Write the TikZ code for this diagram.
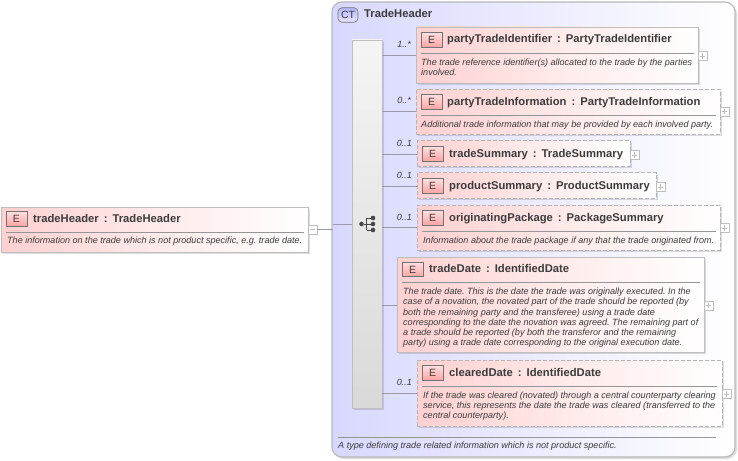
\documentclass[tikz,border=0pt]{standalone}
\usepackage{fontspec}
\setmainfont{Liberation Sans}
\definecolor{txt}{HTML}{3C3C3C}
\definecolor{bord}{HTML}{BEBEBE}
\definecolor{dashb}{HTML}{B4B4B4}
\definecolor{pinkl}{HTML}{FFD0D0}
\definecolor{lav}{HTML}{D8D8FF}
\definecolor{rulec}{HTML}{969696}
\definecolor{wirec}{HTML}{9A9AA8}
\tikzset{
  elemshape/.style={rectangle,inner sep=0pt,outer sep=0pt,left color=pinkl,right color=white,middle color=pinkl!45!white},
  solidb/.style={draw=bord,line width=.9pt},
  dashedb/.style={draw=dashb,line width=.9pt,dash pattern=on 4pt off 2pt},
  title/.style={anchor=base west,inner sep=0pt,text=txt,font=\fontsize{11.25}{13}\selectfont\bfseries},
  desc/.style={anchor=north west,inner sep=0pt,yshift=-1pt,align=left,text=txt,font=\fontsize{9.06}{10.2}\selectfont\itshape\frenchspacing},
  card/.style={anchor=east,inner sep=0pt,text=txt,font=\fontsize{9}{10}\selectfont\itshape},
  eicon/.style={rectangle,inner sep=0pt,outer sep=0pt,minimum width=21pt,minimum height=14.5pt,draw=black!55,line width=.6pt,top color=pinkl!70!white,bottom color=red!36!white,text=txt,font=\fontsize{10.5}{10}\selectfont},
  exp/.style={rectangle,inner sep=0pt,outer sep=0pt,minimum size=9pt,draw=bord,fill=white,line width=.7pt},
  wire/.style={draw=wirec,line width=.7pt},
  rulel/.style={draw=rulec,line width=.7pt},
  sdw/.style={fill=black,opacity=.13},
}
\newcommand{\elembox}[6]{%
  \fill[sdw] (#2+2,#3+2) rectangle (#4+2,#5+2);
  \node[elemshape,#6,minimum width={(#4-#2)*1pt},minimum height={(#5-#3)*1pt}] (#1) at ({(#2+#4)/2},{(#3+#5)/2}) {};
}
\newcommand{\plusbox}[3]{%
  \node[exp] (#1) at (#2,#3) {};
  \draw[draw=bord,line width=.7pt] (#2-2.7,#3) -- (#2+2.7,#3) (#2,#3-2.7) -- (#2,#3+2.7);
}
\begin{document}
\begin{tikzpicture}[x=1pt,y=-1pt]
\useasboundingbox (0,0) rectangle (738,460);
\fill[white] (0,0) rectangle (738,460);

% container
\fill[sdw,rounded corners=10pt] (334,4) rectangle (737,459);
\node[rectangle,rounded corners=10pt,inner sep=0pt,outer sep=0pt,draw=black!28,line width=1.1pt,left color=lav,right color=white,minimum width=403pt,minimum height=455pt] (ct) at (533.5,229.5) {};
\node[rectangle,rounded corners=4pt,inner sep=0pt,outer sep=0pt,minimum width=20pt,minimum height=14.5pt,draw=black!55,line width=.6pt,top color=lav!85!blue,bottom color=lav!70!white,text=txt,font=\fontsize{10.5}{10}\selectfont] (cticon) at (348,15) {CT};
\node[title] (cttitle) at (364,17.5) {TradeHeader};
\draw[rulel] (338,437) -- (716,437);
\node[desc] (ctdesc) at (338,441) {A type defining trade related information which is not product specific.};

% top-level element
\elembox{root}{1}{207}{308}{252}{solidb}
\node[eicon] (rooticon) at (16.5,219) {E};
\node[title] (roottitle) at (33,222.5) {tradeHeader\ \,:\ \,TradeHeader};
\draw[rulel] (6,232) -- (304,232);
\node[desc] (rootdesc) at (7,236) {The information on the trade which is not product specific, e.g. trade date.};
\node[exp] (rootexp) at (312.5,229.5) {};
\draw[draw=bord,line width=.7pt] (310,229.5) -- (315,229.5);

% sequence bar
\fill[sdw] (354,42) rectangle (384,410);
\node[rectangle,inner sep=0pt,outer sep=0pt,draw=bord,line width=.9pt,top color=black!4,bottom color=black!15,minimum width=30pt,minimum height=368pt] (seq) at (367,224) {};
\node[circle,fill=black!72,inner sep=0pt,minimum size=4.6pt] (sq0) at (361.5,224) {};
\node[circle,fill=black!72,inner sep=0pt,minimum size=4.6pt] (sq1) at (373,218) {};
\node[circle,fill=black!72,inner sep=0pt,minimum size=4.6pt] (sq2) at (373,224) {};
\node[circle,fill=black!72,inner sep=0pt,minimum size=4.6pt] (sq3) at (373,230) {};
\draw[draw=black!72,line width=.7pt] (sq0) -- (sq2) (366.5,218) -- (366.5,230) (366.5,218) -- (sq1) (366.5,230) -- (sq3);

\coordinate (rj) at (333,229.5);
\coordinate (sj) at (333,224);
\draw[wire] (rootexp.east) -- (rj);
\draw[wire] (sj) -- (seq.west |- sj);

% elements
\elembox{e1}{416}{27}{698}{83}{solidb}
\node[eicon] (i1) at (431.5,40) {E};
\node[title] (t1) at (447,43) {partyTradeIdentifier\ \,:\ \,PartyTradeIdentifier};
\draw[rulel] (421,53) -- (694,53);
\node[desc] (d1) at (421,57.5) {The trade reference identifier(s) allocated to the trade by the parties\\involved.};
\plusbox{x1}{702.5}{56}
\coordinate (c1) at (416,55);
\draw[wire] (seq.east |- c1) -- (e1.west |- c1);
\node[card] (m1) at (411,44) {1..*};

\elembox{e2}{416}{89}{720}{134}{dashedb}
\node[eicon] (i2) at (431.5,102) {E};
\node[title] (t2) at (447,105) {partyTradeInformation\ \,:\ \,PartyTradeInformation};
\draw[rulel] (421,115) -- (716,115);
\node[desc] (d2) at (421,119.5) {Additional trade information that may be provided by each involved party.};
\plusbox{x2}{724.5}{111.5}
\coordinate (c2) at (416,111);
\draw[wire] (seq.east |- c2) -- (e2.west |- c2);
\node[card] (m2) at (411,100.5) {0..*};

\elembox{e3}{417}{140.5}{630}{166}{dashedb}
\node[eicon] (i3) at (432.5,154) {E};
\node[title] (t3) at (449,157) {tradeSummary\ \,:\ \,TradeSummary};
\plusbox{x3}{634.5}{155}
\coordinate (c3) at (417,154);
\draw[wire] (seq.east |- c3) -- (e3.west |- c3);
\node[card] (m3) at (412,143) {0..1};

\elembox{e4}{417}{172.5}{656}{198}{dashedb}
\node[eicon] (i4) at (432.5,186) {E};
\node[title] (t4) at (449,189) {productSummary\ \,:\ \,ProductSummary};
\plusbox{x4}{660.5}{187}
\coordinate (c4) at (417,186);
\draw[wire] (seq.east |- c4) -- (e4.west |- c4);
\node[card] (m4) at (412,175) {0..1};

\elembox{e5}{417}{205}{720}{250}{dashedb}
\node[eicon] (i5) at (432.5,218) {E};
\node[title] (t5) at (449,221) {originatingPackage\ \,:\ \,PackageSummary};
\draw[rulel] (422,231) -- (716,231);
\node[desc] (d5) at (423,235.5) {Information about the trade package if any that the trade originated from.};
\plusbox{x5}{724.5}{228}
\coordinate (c5) at (417,227);
\draw[wire] (seq.east |- c5) -- (e5.west |- c5);
\node[card] (m5) at (412,217) {0..1};

\elembox{e6}{397}{257}{704}{352}{solidb}
\node[eicon] (i6) at (412.5,269.5) {E};
\node[title] (t6) at (429,272.5) {tradeDate\ \,:\ \,IdentifiedDate};
\draw[rulel] (402,282) -- (700,282);
\node[desc] (d6) at (403,287) {The trade date. This is the date the trade was originally executed. In the\\case of a novation, the novated part of the trade should be reported (by\\both the remaining party and the transferee) using a trade date\\corresponding to the date the novation was agreed. The remaining part of\\a trade should be reported (by both the transferor and the remaining\\party) using a trade date corresponding to the original execution date.};
\plusbox{x6}{708.5}{305.5}
\coordinate (c6) at (397,305);
\draw[wire] (seq.east |- c6) -- (e6.west |- c6);

\elembox{e7}{417}{360}{722}{426}{dashedb}
\node[eicon] (i7) at (432.5,373) {E};
\node[title] (t7) at (449,376) {clearedDate\ \,:\ \,IdentifiedDate};
\draw[rulel] (422,386) -- (717,386);
\node[desc] (d7) at (423,390.5) {If the trade was cleared (novated) through a central counterparty clearing\\service, this represents the date the trade was cleared (transferred to the\\central counterparty).};
\plusbox{x7}{726.5}{394}
\coordinate (c7) at (417,393);
\draw[wire] (seq.east |- c7) -- (e7.west |- c7);
\node[card] (m7) at (412,382) {0..1};
\end{tikzpicture}
\end{document}
